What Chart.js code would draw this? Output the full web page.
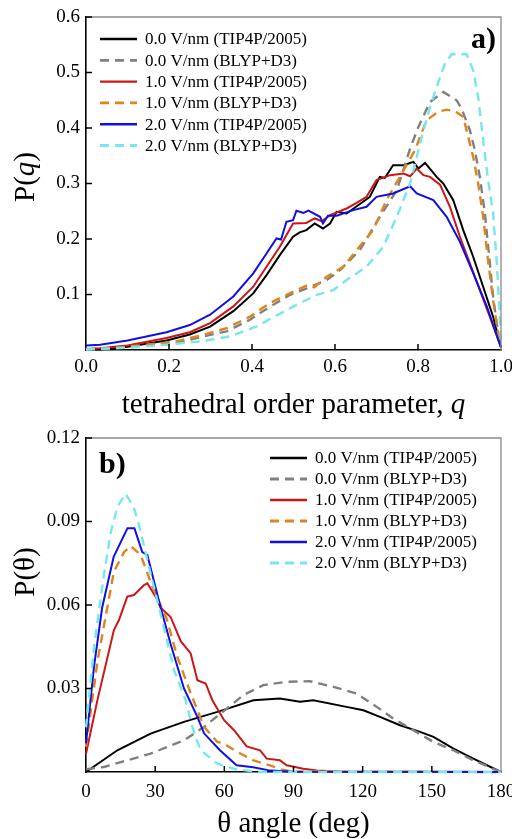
<!DOCTYPE html>
<html><head><meta charset="utf-8">
<script src="https://cdn.jsdelivr.net/npm/chart.js@4.4.1/dist/chart.umd.min.js"></script>
<style>
html,body{margin:0;padding:0;background:#fff;overflow:hidden;width:512px;height:839px}
#ca{position:absolute;left:0;top:0}
#cb{position:absolute;left:0;top:420px}
</style></head><body>
<canvas id="ca" width="512" height="420"></canvas>
<canvas id="cb" width="512" height="419"></canvas>
<script>
// ---------- labels ----------
const seriesLabels = ['0.0 V/nm (TIP4P/2005)', '0.0 V/nm (BLYP+D3)', '1.0 V/nm (TIP4P/2005)',
                      '1.0 V/nm (BLYP+D3)', '2.0 V/nm (TIP4P/2005)', '2.0 V/nm (BLYP+D3)'];
const seriesColors = ['#000000', '#808080', '#cc1616', '#e0841e', '#1010e0', '#74e8ee'];
const seriesDashed = [false, true, false, true, false, true];

// ---------- panel a: P(q) ----------
const xTicksA = [0, 0.2, 0.4, 0.6, 0.8, 1.0];
const yTicksA = [0.1, 0.2, 0.3, 0.4, 0.5, 0.6];

const qA0tip = [0, 0.034, 0.1, 0.194, 0.25, 0.299, 0.355, 0.403, 0.435, 0.467, 0.499, 0.515, 0.531, 0.551, 0.571, 0.588, 0.604, 0.628, 0.66, 0.684, 0.708, 0.72, 0.74, 0.765, 0.789, 0.801, 0.817, 0.845, 0.861, 0.885, 0.909, 0.933, 0.957, 0.981, 1.0];
const pA0tip = [0.001, 0.001, 0.006, 0.017, 0.028, 0.042, 0.070, 0.102, 0.135, 0.171, 0.204, 0.212, 0.216, 0.228, 0.219, 0.228, 0.249, 0.246, 0.263, 0.276, 0.312, 0.310, 0.333, 0.333, 0.339, 0.327, 0.337, 0.312, 0.300, 0.270, 0.216, 0.168, 0.114, 0.060, 0.005];

const qA0blyp = [0, 0.1, 0.218, 0.283, 0.339, 0.395, 0.443, 0.492, 0.532, 0.58, 0.612, 0.66, 0.708, 0.749, 0.781, 0.801, 0.829, 0.861, 0.893, 0.905, 0.925, 0.937, 0.949, 0.961, 0.973, 0.981, 0.994, 1.0];
const pA0blyp = [0.001, 0.005, 0.0126, 0.0245, 0.0335, 0.0545, 0.078, 0.0995, 0.111, 0.126, 0.144, 0.180, 0.240, 0.288, 0.363, 0.402, 0.447, 0.465, 0.450, 0.435, 0.396, 0.360, 0.312, 0.247, 0.157, 0.096, 0.024, 0.010];

const qA1tip = [0, 0.034, 0.1, 0.194, 0.25, 0.299, 0.355, 0.403, 0.435, 0.467, 0.499, 0.531, 0.551, 0.568, 0.588, 0.628, 0.652, 0.676, 0.70, 0.733, 0.765, 0.781, 0.797, 0.813, 0.829, 0.853, 0.877, 0.901, 0.925, 0.949, 0.973, 1.0];
const pA1tip = [0.002, 0.003, 0.008, 0.0215, 0.032, 0.0485, 0.0785, 0.114, 0.150, 0.186, 0.228, 0.229, 0.237, 0.232, 0.243, 0.255, 0.265, 0.276, 0.306, 0.315, 0.318, 0.313, 0.327, 0.315, 0.312, 0.298, 0.258, 0.204, 0.156, 0.108, 0.060, 0.005];

const qA1blyp = [0, 0.1, 0.218, 0.283, 0.339, 0.395, 0.443, 0.492, 0.536, 0.55, 0.58, 0.62, 0.652, 0.692, 0.724, 0.793, 0.805, 0.821, 0.85, 0.87, 0.89, 0.909, 0.921, 0.933, 0.945, 0.957, 0.969, 0.981, 0.994, 1.0];
const pA1blyp = [0.001, 0.006, 0.0155, 0.0275, 0.0395, 0.060, 0.0845, 0.1025, 0.1175, 0.113, 0.132, 0.150, 0.180, 0.216, 0.270, 0.360, 0.384, 0.414, 0.430, 0.433, 0.430, 0.420, 0.384, 0.348, 0.300, 0.240, 0.160, 0.090, 0.025, 0.010];

const qA2tip = [0, 0.034, 0.1, 0.194, 0.25, 0.299, 0.355, 0.403, 0.435, 0.459, 0.47, 0.483, 0.499, 0.507, 0.524, 0.536, 0.564, 0.571, 0.583, 0.604, 0.644, 0.676, 0.70, 0.74, 0.781, 0.797, 0.837, 0.869, 0.901, 0.933, 0.966, 1.0];
const pA2tip = [0.008, 0.0095, 0.017, 0.032, 0.045, 0.0635, 0.0965, 0.138, 0.174, 0.201, 0.199, 0.231, 0.234, 0.251, 0.247, 0.251, 0.240, 0.228, 0.242, 0.242, 0.252, 0.258, 0.276, 0.282, 0.295, 0.282, 0.270, 0.240, 0.195, 0.1385, 0.078, 0.004];

const qA2blyp = [0, 0.1, 0.194, 0.275, 0.347, 0.411, 0.492, 0.556, 0.596, 0.628, 0.676, 0.716, 0.749, 0.781, 0.809, 0.829, 0.845, 0.865, 0.881, 0.917, 0.933, 0.945, 0.957, 0.969, 0.981, 0.99, 1.0];
const pA2blyp = [0.001, 0.004, 0.0095, 0.0155, 0.0245, 0.0425, 0.0755, 0.0995, 0.108, 0.126, 0.150, 0.186, 0.240, 0.300, 0.384, 0.438, 0.474, 0.516, 0.533, 0.533, 0.504, 0.456, 0.378, 0.306, 0.246, 0.156, 0.015];

// ---------- panel b: P(theta) ----------
const xTicksB = [0, 30, 60, 90, 120, 150, 180];
const yTicksB = [0.03, 0.06, 0.09, 0.12];

const tB0tip = [0, 13.6, 28, 42.5, 57, 72.6, 84.1, 92.8, 98.6, 113, 120.3, 127.5, 136.2, 144.9, 150.7, 159.4, 168, 180];
const pB0tip = [0, 0.0078, 0.0138, 0.018, 0.0216, 0.0258, 0.0264, 0.0252, 0.0258, 0.0234, 0.0222, 0.0198, 0.0168, 0.0144, 0.0126, 0.0084, 0.0048, 0];

const tB0blyp = [0, 7.8, 28, 42.5, 51.2, 59.9, 68.2, 76.9, 87, 97.2, 107.3, 117.4, 126.1, 133.3, 142, 150.7, 159.4, 168, 180];
const pB0blyp = [0.001, 0.0018, 0.0066, 0.0114, 0.0162, 0.022, 0.0276, 0.0312, 0.0324, 0.0326, 0.0306, 0.0282, 0.0234, 0.0192, 0.015, 0.0108, 0.0078, 0.0042, 0];

const tB1tip = [0, 5, 12.1, 14.3, 17.9, 20.8, 25.2, 26.6, 30.2, 32.4, 36.7, 41.1, 45.4, 48.3, 51.9, 54.8, 59.9, 64.2, 69.7, 75.5, 78.4, 84.1, 87, 94.3, 100, 110, 180];
const pB1tip = [0.0065, 0.026, 0.051, 0.0546, 0.063, 0.0636, 0.0672, 0.0678, 0.063, 0.059, 0.0557, 0.047, 0.0426, 0.033, 0.0318, 0.0258, 0.0186, 0.015, 0.0092, 0.0078, 0.0048, 0.0042, 0.0024, 0.0012, 0.0005, 0.0002, 0];

const tB1blyp = [0, 5, 12.1, 16.5, 19.4, 23.7, 28.8, 35, 39.6, 45.4, 51.2, 57, 59.6, 65, 72.6, 79.8, 85, 90, 180];
const pB1blyp = [0.009, 0.040, 0.072, 0.079, 0.0812, 0.078, 0.0666, 0.055, 0.0414, 0.0283, 0.0162, 0.0108, 0.0103, 0.0075, 0.0042, 0.0024, 0.0008, 0.0002, 0];

const tB2tip = [0, 3.5, 7, 12, 18, 21, 24.4, 26.6, 32.4, 36.7, 42.5, 48.3, 51.2, 58.1, 65.3, 72.5, 80, 90, 180];
const pB2tip = [0.0103, 0.038, 0.059, 0.0773, 0.0876, 0.0876, 0.079, 0.078, 0.059, 0.046, 0.030, 0.0198, 0.0139, 0.0078, 0.0024, 0.0017, 0.0005, 0.0001, 0];

const tB2blyp = [0, 3.5, 7.8, 10.7, 13.6, 17.2, 20.8, 23, 27.3, 32, 38.2, 43.2, 46.1, 49.7, 57, 65, 75, 180];
const pB2blyp = [0.016, 0.045, 0.071, 0.086, 0.0953, 0.100, 0.0948, 0.0887, 0.0737, 0.058, 0.0366, 0.0258, 0.0162, 0.0078, 0.003, 0.001, 0, 0];

// ---------- helpers ----------
const FONT = "'Liberation Serif', 'Times New Roman', serif";
function zip(xs, ys) { return xs.map((x, i) => ({x: x, y: ys[i]})); }
function makeDatasets(pairs) {
  return pairs.map((pr, i) => ({
    label: seriesLabels[i],
    data: zip(pr[0], pr[1]),
    borderColor: seriesColors[i],
    backgroundColor: seriesColors[i],
    borderWidth: seriesDashed[i] ? 2.4 : 2,
    borderDash: seriesDashed[i] ? [9, 6] : [],
    pointRadius: 0,
    tension: 0,
    fill: false,
    clip: false,
    order: -i
  }));
}

const decor = {
  id: 'decor',
  afterDraw(chart, args, o) {
    const ctx = chart.ctx, a = chart.chartArea, sx = chart.scales.x, sy = chart.scales.y;
    ctx.save();
    // top / right frame
    ctx.strokeStyle = '#8a8a8a'; ctx.lineWidth = 1.3;
    ctx.beginPath(); ctx.moveTo(a.left, a.top); ctx.lineTo(a.right, a.top); ctx.lineTo(a.right, a.bottom); ctx.stroke();
    // inward ticks
    ctx.strokeStyle = '#000'; ctx.lineWidth = 1.5;
    sx.ticks.forEach(t => {
      if (t.value <= sx.min + 1e-9 || t.value >= sx.max - 1e-9) return;
      const p = sx.getPixelForValue(t.value);
      ctx.beginPath(); ctx.moveTo(p, a.bottom); ctx.lineTo(p, a.bottom - 6); ctx.stroke();
    });
    sy.ticks.forEach(t => {
      if (t.value <= sy.min + 1e-9) return;
      const p = sy.getPixelForValue(t.value);
      ctx.beginPath(); ctx.moveTo(a.left, p); ctx.lineTo(a.left + 6, p); ctx.stroke();
    });
    // legend
    const L = o.legend;
    ctx.font = L.size + 'px ' + FONT; ctx.textBaseline = 'middle'; ctx.textAlign = 'left'; ctx.fillStyle = '#000';
    chart.data.datasets.forEach((ds, i) => {
      const y = L.y0 + i * L.dy;
      ctx.strokeStyle = ds.borderColor; ctx.lineWidth = ds.borderWidth + 0.4;
      ctx.setLineDash(ds.borderDash);
      ctx.beginPath(); ctx.moveTo(L.x0, y); ctx.lineTo(L.x1, y); ctx.stroke();
      ctx.setLineDash([]);
      ctx.fillText(ds.label, L.tx, y + 1);
    });
    // panel label
    ctx.font = 'bold ' + o.panel.size + 'px ' + FONT; ctx.textBaseline = 'alphabetic';
    ctx.textAlign = o.panel.align; ctx.fillStyle = '#000';
    ctx.fillText(o.panel.text, o.panel.x, o.panel.y);
    // axis titles (rich text so the variable can be italic)
    function rich(pieces, size) {
      let w = 0;
      pieces.forEach(p => { ctx.font = (p.it ? 'italic ' : '') + size + 'px ' + FONT; p.w = ctx.measureText(p.t).width; w += p.w; });
      return w;
    }
    function drawRich(pieces, size, x0, y) {
      ctx.textAlign = 'left';
      let x = x0;
      pieces.forEach(p => { ctx.font = (p.it ? 'italic ' : '') + size + 'px ' + FONT; ctx.fillText(p.t, x, y); x += p.w; });
    }
    const xt = o.xTitle, yt = o.yTitle;
    let w = rich(xt.pieces, xt.size);
    ctx.textBaseline = 'alphabetic';
    drawRich(xt.pieces, xt.size, (a.left + a.right) / 2 - w / 2, xt.y);
    w = rich(yt.pieces, yt.size);
    ctx.translate(yt.x, yt.cy); ctx.rotate(-Math.PI / 2);
    ctx.textBaseline = 'middle';
    drawRich(yt.pieces, yt.size, -w / 2, 0);
    ctx.restore();
  }
};

function makeChart(id, datasets, cfg) {
  return new Chart(document.getElementById(id), {
    type: 'line',
    data: {datasets: datasets},
    plugins: [decor],
    options: {
      responsive: false, animation: false, devicePixelRatio: 1,
      layout: {padding: {left: 0, right: 11, top: cfg.padTop, bottom: 0}},
      plugins: {legend: {display: false}, tooltip: {enabled: false}, decor: cfg.decor},
      scales: {
        x: {
          type: 'linear', min: cfg.xTicks[0], max: cfg.xTicks[cfg.xTicks.length - 1],
          afterBuildTicks: s => { s.ticks = cfg.xTicks.map(v => ({value: v})); },
          afterFit: s => { s.height = cfg.xH; s.paddingLeft = 0; s.paddingRight = 0; },
          grid: {display: false, drawTicks: false},
          border: {display: true, color: '#000', width: 1.6},
          ticks: {padding: cfg.xPad, maxRotation: 0, color: '#000', font: {family: FONT, size: 19},
                  callback: v => v.toFixed(cfg.xDec)}
        },
        y: {
          type: 'linear', min: 0, max: cfg.yTicks[cfg.yTicks.length - 1],
          afterBuildTicks: s => { s.ticks = [0].concat(cfg.yTicks).map(v => ({value: v})); },
          afterFit: s => { s.width = 86; s.paddingTop = 0; s.paddingBottom = 0; },
          grid: {display: false, drawTicks: false},
          border: {display: true, color: '#000', width: 1.6},
          ticks: {padding: 6, color: '#000', font: {family: FONT, size: 19},
                  callback: v => (v === 0 ? '' : v.toFixed(cfg.yDec))}
        }
      }
    }
  });
}

makeChart('ca', makeDatasets([[qA0tip, pA0tip], [qA0blyp, pA0blyp], [qA1tip, pA1tip], [qA1blyp, pA1blyp], [qA2tip, pA2tip], [qA2blyp, pA2blyp]]), {
  padTop: 17, xH: 70, xPad: 6, xDec: 1, yDec: 1, xTicks: xTicksA, yTicks: yTicksA,
  decor: {
    legend: {x0: 100, x1: 137, tx: 145, y0: 39, dy: 21.3, size: 17},
    panel: {text: 'a)', x: 496, y: 48, size: 30, align: 'right'},
    xTitle: {pieces: [{t: 'tetrahedral order parameter, '}, {t: 'q', it: true}], size: 29, y: 413},
    yTitle: {pieces: [{t: 'P('}, {t: 'q', it: true}, {t: ')'}], size: 29, x: 26, cy: 177}
  }
});

makeChart('cb', makeDatasets([[tB0tip, pB0tip], [tB0blyp, pB0blyp], [tB1tip, pB1tip], [tB1blyp, pB1blyp], [tB2tip, pB2tip], [tB2blyp, pB2blyp]]), {
  padTop: 18, xH: 67, xPad: 9, xDec: 0, yDec: 2, xTicks: xTicksB, yTicks: yTicksB,
  decor: {
    legend: {x0: 270, x1: 307, tx: 315, y0: 38, dy: 21, size: 17},
    panel: {text: 'b)', x: 99, y: 53, size: 30, align: 'left'},
    xTitle: {pieces: [{t: 'θ angle (deg)'}], size: 29, y: 412},
    yTitle: {pieces: [{t: 'P(θ)'}], size: 29, x: 26, cy: 152}
  }
});
</script>
</body></html>
